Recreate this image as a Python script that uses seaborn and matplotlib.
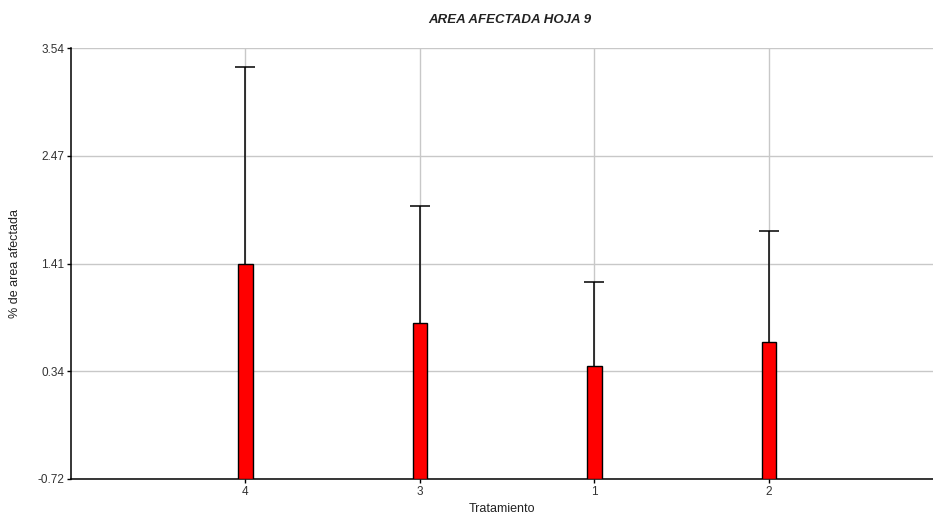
import matplotlib
matplotlib.use("Agg")
import matplotlib.pyplot as plt
import seaborn as sns
import pandas as pd
import numpy as np

# Treatment means and upper error lengths
tratamientos = ["4", "3", "1", "2"]
medias = [1.41, 0.82, 0.395, 0.635]
error_sup = [1.94, 1.16, 0.835, 1.095]
y_ticks = [-0.72, 0.345, 1.41, 2.475, 3.54]
y_tick_labels = ["-0.72", "0.34", "1.41", "2.47", "3.54"]
base = -0.72

df = pd.DataFrame({"Tratamiento": tratamientos, "media": medias})

sns.set_style("white")
plt.rcParams["font.family"] = ["Liberation Sans", "DejaVu Sans"]

fig = plt.figure(figsize=(9.33, 5.18), dpi=100)
ax = fig.add_axes([0.0761, 0.0753, 0.9239, 0.8315])

sns.barplot(data=df, x="Tratamiento", y="media", order=tratamientos,
            color="#ff0000", saturation=1, width=0.083,
            edgecolor="black", linewidth=1.0, errorbar=None, ax=ax, zorder=3)

# Bars rise from the bottom of the value axis
for patch, m in zip(ax.patches, medias):
    patch.set_y(base)
    patch.set_height(m - base)

# One-sided (upper) error bars with a cap only at the top
xpos = np.arange(len(tratamientos))
_, caps, _ = ax.errorbar(xpos, medias, yerr=[np.zeros(len(medias)), error_sup],
                         fmt="none", ecolor="black", elinewidth=1.1,
                         capsize=7.5, capthick=1.1, zorder=2)
caps[0].set_visible(False)

ax.set_xlim(-1, 3.94)
ax.set_ylim(base, 3.54)
ax.set_yticks(y_ticks)
ax.set_yticklabels(y_tick_labels)

ax.grid(True, color="#c8c8c8", linewidth=1.0, zorder=0)
ax.set_axisbelow(True)

for side in ["top", "right"]:
    ax.spines[side].set_visible(False)
for side in ["left", "bottom"]:
    ax.spines[side].set_color("black")
    ax.spines[side].set_linewidth(1.1)

ax.tick_params(axis="both", which="both", direction="out", length=3,
               width=1, color="black", labelsize=8.5, labelcolor="#333333",
               left=True, bottom=True, pad=2)

ax.set_xlabel("Tratamiento", fontsize=9, color="#222222", labelpad=4)
ax.set_ylabel("% de area afectada", fontsize=9, color="#222222", labelpad=12)

fig.text(0.546, 0.962, "AREA AFECTADA HOJA 9", ha="center", va="center",
         fontsize=9.5, fontweight="bold", fontstyle="italic", color="#222222")

fig.savefig("out.png", dpi=100)
